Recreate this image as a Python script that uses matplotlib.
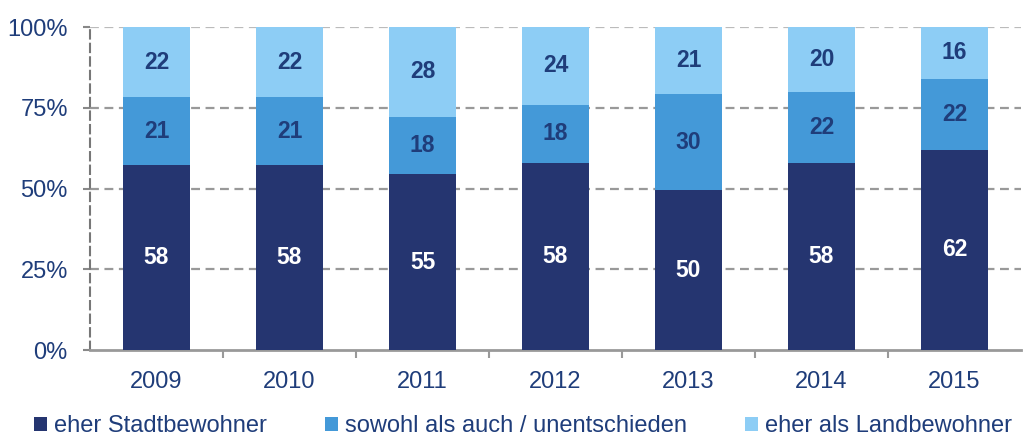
import numpy as np
import matplotlib.pyplot as plt

years = ["2009", "2010", "2011", "2012", "2013", "2014", "2015"]
stadt = [58, 58, 55, 58, 50, 58, 62]
beides = [21, 21, 18, 18, 30, 22, 22]
land = [22, 22, 28, 24, 21, 20, 16]
labels = ["eher Stadtbewohner", "sowohl als auch / unentschieden", "eher als Landbewohner"]

colors = ["#253570", "#4499d8", "#8dcdf5"]
text_col = "#1f3d7a"

plt.rcParams['font.family'] = ['Liberation Sans', 'DejaVu Sans']

# values don't add up to exactly 100, so bars are scaled to 100 %
series = np.array([stadt, beides, land], dtype=float)
shares = series / series.sum(axis=0) * 100

fig = plt.figure(figsize=(10.23, 4.37), dpi=100)
ax = fig.add_axes([0.088, 0.199, 0.910, 0.739])

x = np.arange(len(years))
bottom = np.zeros(len(years))
handles = []
for i in range(3):
    b = ax.bar(x, shares[i], 0.5, bottom=bottom, color=colors[i], zorder=3)
    handles.append(b)
    for j in range(len(years)):
        ax.text(x[j], bottom[j] + shares[i][j] / 2, str(int(series[i][j])),
                ha='center', va='center', fontsize=16.5, fontweight='bold',
                color='white' if i == 0 else text_col, zorder=4)
    bottom += shares[i]

ax.set_xlim(-0.5, len(years) - 0.5)
ax.set_ylim(0, 100)
ax.set_yticks([0, 25, 50, 75, 100])
ax.set_yticklabels(["0%", "25%", "50%", "75%", "100%"])
ax.set_xticks(x)
ax.set_xticklabels(years)
ax.set_xticks(np.arange(0.5, len(years) - 0.5), minor=True)
ax.tick_params(axis='x', which='major', length=0, pad=15, labelsize=17, labelcolor=text_col)
ax.tick_params(axis='x', which='minor', length=6, width=1.5, color='#999999', direction='out')
ax.tick_params(axis='y', length=5, width=1.5, color='#888888', pad=11, labelsize=17, labelcolor=text_col)

for yv, c in [(25, '#999999'), (50, '#999999'), (75, '#999999'), (100, '#bbbbbb')]:
    ax.axhline(yv, color=c, linestyle=(0, (4, 2.5)), linewidth=1.6, zorder=1)

for s in ['top', 'right']:
    ax.spines[s].set_visible(False)
ax.spines['left'].set_linestyle((0, (4, 2.5)))
ax.spines['left'].set_color('#777777')
ax.spines['left'].set_linewidth(1.5)
ax.spines['bottom'].set_color('#999999')
ax.spines['bottom'].set_linewidth(2)

leg = fig.legend(handles, labels, loc='center left', bbox_to_anchor=(34 / 1023, 1 - 426 / 437),
                 ncol=3, frameon=False, fontsize=17, handlelength=0.55, handleheight=0.55,
                 handletextpad=0.3, columnspacing=2.45, borderpad=0, borderaxespad=0)
for t in leg.get_texts():
    t.set_color(text_col)

fig.savefig("out.png", dpi=100)
